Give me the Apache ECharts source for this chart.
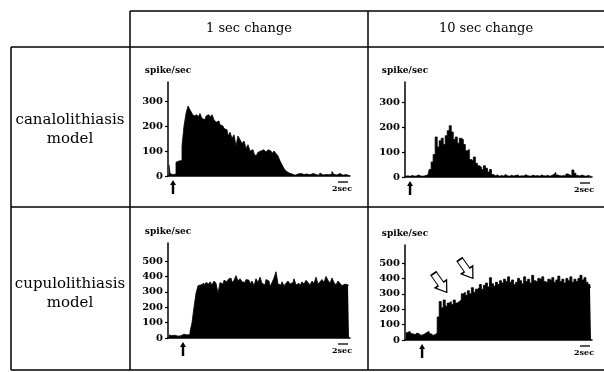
<!DOCTYPE html>
<html>
<head>
<meta charset="utf-8">
<script src="https://cdn.jsdelivr.net/npm/echarts@6/dist/echarts.min.js"></script>
<style>
  html, body { margin: 0; padding: 0; background: #fff; }
  #c { width: 604px; height: 372px; }
</style>
</head>
<body>
<div id="c"></div>
<script>
// Firing rate per time bin (spike/sec), one array per panel.
const canaloOneSec = [
  45, 10, 5, 8, 55, 60, 62, 120, 200, 250, 280, 265,
  250, 240, 245, 235, 250, 230, 225, 240, 245, 235, 245, 225, 215, 220,
  205, 200, 190, 185, 160,
  175, 150, 165, 120, 160, 145,
  130, 140, 110, 125, 100, 105, 90, 80,
  95, 100, 105, 100, 95, 105, 100, 90, 100, 90, 80,
  60, 45, 30, 20, 12, 8,
  5, 3, 8, 4, 10, 6, 3, 8, 5, 4, 10, 6, 5, 3, 12, 4, 6, 3, 5, 8, 18, 6, 4, 10, 5, 3, 6, 4, 2
];
const canaloTenSec = [
  3, 5, 2, 6, 4, 3, 8, 5, 3, 4, 6, 10,
  30, 60, 90,
  160, 120,
  145, 155, 130, 165,
  185, 205, 180,
  150, 160, 135, 155, 150, 130,
  105, 110,
  70, 65, 80, 55,
  45, 40, 30, 45, 35, 20,
  30, 10,
  5, 8, 3, 6, 4, 10, 5, 3, 7, 4, 6, 8, 3, 5, 4, 9, 6, 3, 5, 7,
  4, 6, 3, 8, 5, 4, 7, 3, 6, 10, 18, 8, 5, 4, 6, 3, 12, 8, 5, 28,
  15, 6, 4, 8, 5, 3, 6, 4, 3
];
const cupuloOneSec = [
  20, 15, 22, 18, 12, 20, 15, 25, 18, 20, 22,
  40, 100, 200, 290, 340,
  345, 355, 340, 360, 350, 365, 345, 370, 355, 290, 360, 350, 375, 365, 380,
  390, 360, 375, 405, 370, 385, 365, 360, 380, 375, 350, 370, 340, 385, 360,
  395, 355, 345, 380, 370, 335, 360, 390, 430, 350, 345, 365, 340, 355, 370,
  350, 360, 385, 345, 355, 340, 365, 350, 375, 360, 345, 370, 355, 395, 350,
  365, 380, 360, 400, 375, 355, 390, 360, 345, 370, 355, 340, 350, 345, 340
];
const cupuloTenSec = [
  45, 50, 55, 40, 35, 45, 40, 30, 35, 40, 50, 55, 40, 30, 35, 45,
  150, 250, 210, 260, 220, 240, 250, 230, 260, 240, 250, 260,
  300, 310, 290, 320, 300, 340, 310, 330,
  340, 360, 330, 355, 370, 345, 405, 365, 350, 375, 360, 385, 370, 395, 380, 410, 375,
  390, 360, 375, 400, 385, 365, 410, 380, 395, 370,
  420, 385, 375, 400, 390, 410, 380, 370, 395, 385,
  405, 375, 390, 415, 380, 395, 370, 400, 385, 410,
  375, 395, 380, 400, 420, 390, 405, 375, 360, 340
];

const columnTitles = ['1 sec change', '10 sec change'];
const rowTitles = [['canalolithiasis', 'model'], ['cupulolithiasis', 'model']];
const ticksCanalo = [0, 100, 200, 300];
const ticksCupulo = [0, 100, 200, 300, 400, 500];
const yUnit = 'spike/sec';
const scaleLabel = '2sec';
// stimulus onset (bin index) marked by the arrow under each histogram
const onsetBins = [2, 2, 7, 8];
// hollow arrows in the cupulolithiasis / 10 sec panel: [bin, spike/sec]
const hollowArrowPoints = [[17, 370], [30, 461]];

const SERIF = '"DejaVu Serif", "Liberation Serif", serif';
const BLACK = '#000';

const panels = [
  { data: canaloOneSec, grid: { left: 168, top: 82, width: 182, height: 94 }, max: 376, ticks: ticksCanalo },
  { data: canaloTenSec, grid: { left: 405, top: 82, width: 187, height: 95 }, max: 380, ticks: ticksCanalo },
  { data: cupuloOneSec, grid: { left: 168, top: 243, width: 182, height: 95 }, max: 617, ticks: ticksCupulo },
  { data: cupuloTenSec, grid: { left: 405, top: 245, width: 187, height: 95 }, max: 617, ticks: ticksCupulo }
];

const blockArrow = 'path://M3,0 L9,0 L9,11 L12.5,11 L6,20 L-0.5,11 L3,11 Z';

const grids = [], xAxes = [], yAxes = [], series = [];
panels.forEach((p, k) => {
  grids.push(Object.assign({ containLabel: false }, p.grid));
  xAxes.push({
    type: 'category', gridIndex: k,
    data: p.data.map((_, i) => i),
    boundaryGap: true,
    axisLine: { lineStyle: { color: BLACK, width: 1.5 } },
    axisTick: { show: false }, axisLabel: { show: false }, splitLine: { show: false }
  });
  yAxes.push({
    type: 'value', gridIndex: k, min: 0, max: p.max,
    name: yUnit, nameLocation: 'end', nameGap: 7,
    nameTextStyle: { fontFamily: SERIF, fontWeight: 'bold', fontSize: 9, color: BLACK, align: 'center' },
    axisLine: { show: true, lineStyle: { color: BLACK, width: 1.5 } },
    axisTick: { show: true, length: 3, customValues: p.ticks, lineStyle: { color: BLACK, width: 1.2 } },
    axisLabel: { customValues: p.ticks, fontFamily: SERIF, fontWeight: 'bold', fontSize: 10, color: BLACK, margin: 5 },
    splitLine: { show: false }
  });
  const s = {
    // stepped outline filled down to zero: a solid histogram
    type: 'line', xAxisIndex: k, yAxisIndex: k,
    data: p.data, step: 'middle', showSymbol: false, symbol: 'none',
    lineStyle: { color: BLACK, width: 0.8 },
    areaStyle: { color: BLACK, opacity: 1, origin: 'start' },
    silent: true, z: 2
  };
  if (k === 3) {
    s.markPoint = {
      silent: true, label: { show: false },
      data: hollowArrowPoints.map(pt => ({
        coord: pt, symbol: blockArrow, symbolSize: [14, 23], symbolRotate: 35,
        itemStyle: { color: '#fff', borderColor: BLACK, borderWidth: 1.3 }
      }))
    };
  }
  series.push(s);
});

// table frame and headings
const line = (x1, y1, x2, y2, w) => ({
  type: 'line', silent: true,
  shape: { x1, y1, x2, y2 }, style: { stroke: BLACK, lineWidth: w || 1.5 }
});
const text = (x, y, t, size, align) => ({
  type: 'text', silent: true, x, y,
  style: { text: t, fontFamily: SERIF, fontSize: size, fill: BLACK, align: align || 'center', verticalAlign: 'middle' }
});

const graphics = [
  line(130, 11, 604, 11),
  line(11, 47, 604, 47),
  line(11, 207, 604, 207),
  line(11, 370, 604, 370),
  line(11, 47, 11, 370),
  line(130, 11, 130, 370),
  line(368, 11, 368, 370),
  text(249, 29, columnTitles[0], 13),
  text(486, 29, columnTitles[1], 13),
  text(70, 120, rowTitles[0][0], 15),
  text(70, 139, rowTitles[0][1], 15),
  text(70, 284, rowTitles[1][0], 15),
  text(70, 303, rowTitles[1][1], 15)
];

const chart = echarts.init(document.getElementById('c'), null, { renderer: 'canvas' });
chart.setOption({
  animation: false,
  backgroundColor: '#fff',
  grid: grids, xAxis: xAxes, yAxis: yAxes, series: series,
  graphic: graphics
});

// stimulus arrow under the onset bin, time scale bar and its label at the axis end
panels.forEach((p, k) => {
  const onset = chart.convertToPixel({ gridIndex: k }, [onsetBins[k], 0]);
  graphics.push({
    type: 'polygon', silent: true,
    shape: { points: [
      [onset[0], onset[1] + 4], [onset[0] + 3, onset[1] + 9], [onset[0] + 1.2, onset[1] + 9],
      [onset[0] + 1.2, onset[1] + 18], [onset[0] - 1.2, onset[1] + 18], [onset[0] - 1.2, onset[1] + 9],
      [onset[0] - 3, onset[1] + 9]
    ] },
    style: { fill: BLACK }
  });
  const xEnd = p.grid.left + p.grid.width;
  const yBase = onset[1];
  graphics.push(line(xEnd - 12, yBase + 6, xEnd - 2, yBase + 6, 1.3));
  graphics.push({
    type: 'text', silent: true, x: xEnd + 2, y: yBase + 13,
    style: { text: scaleLabel, fontFamily: SERIF, fontWeight: 'bold', fontSize: 8, fill: BLACK, align: 'right', verticalAlign: 'middle' }
  });
});
chart.setOption({ graphic: graphics });
</script>
</body>
</html>
